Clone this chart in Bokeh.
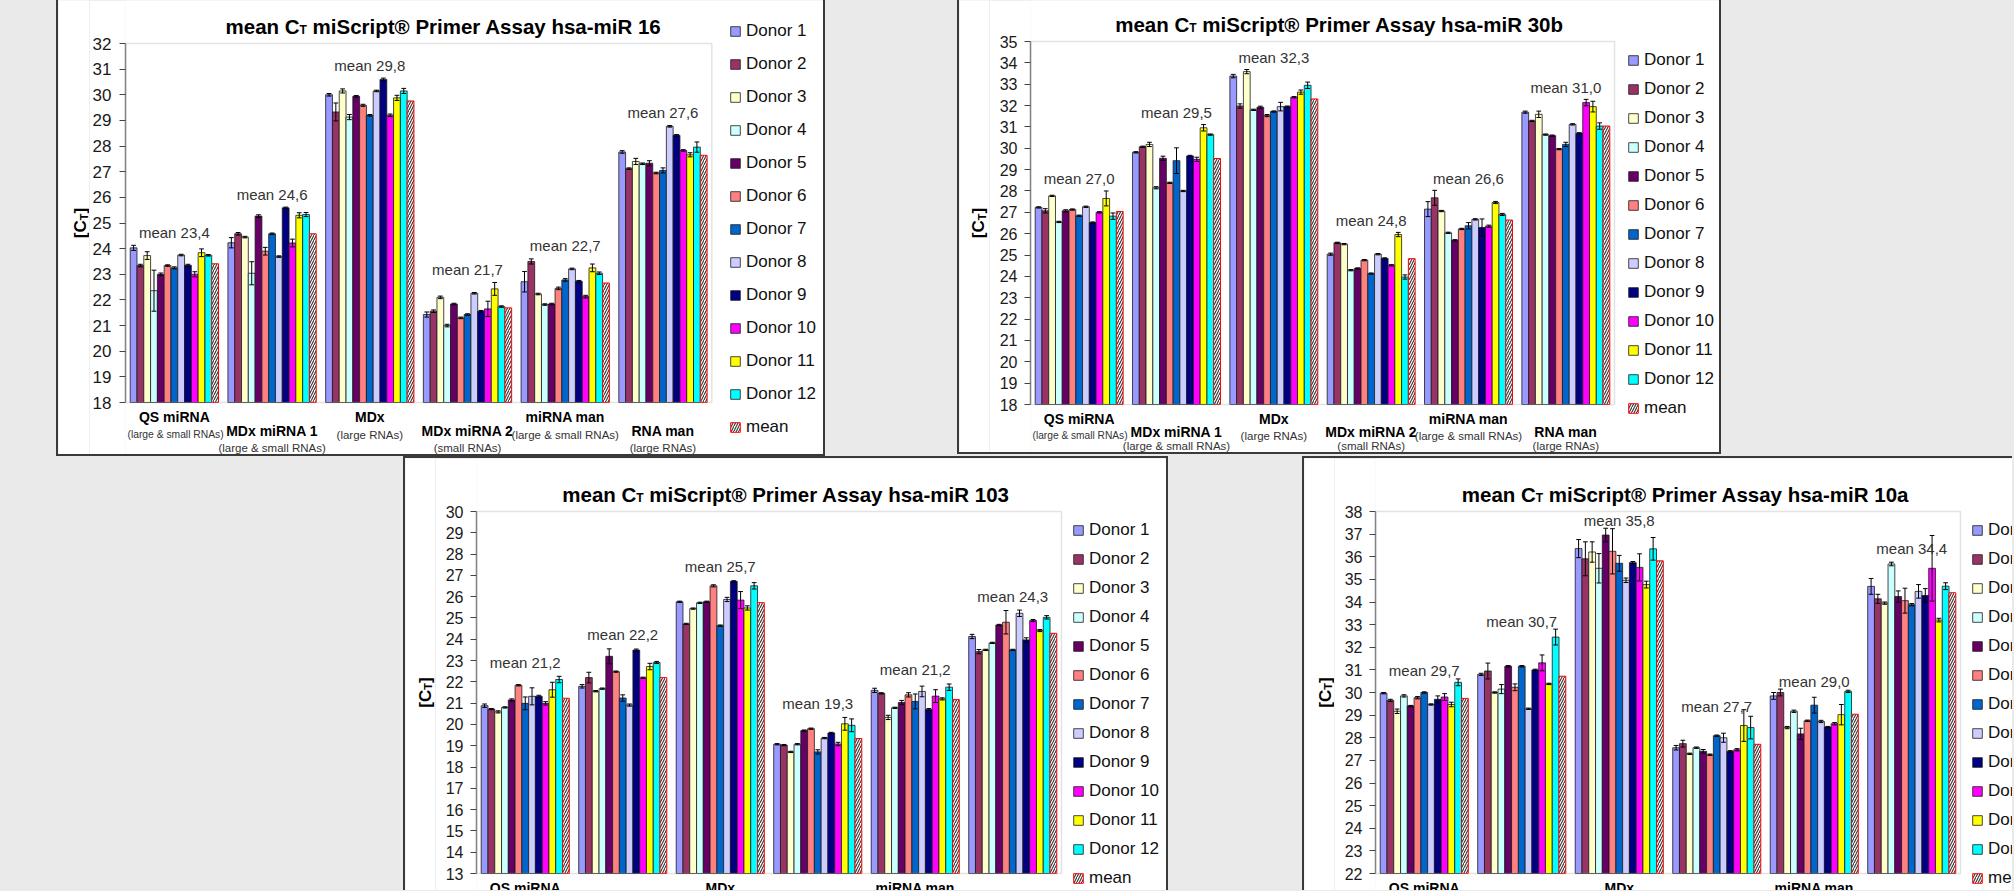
import math
from bokeh.plotting import figure
from bokeh.models import (ColumnDataSource, Range1d, Label, Legend, LegendItem,
                          FixedTicker, Spacer, BoxAnnotation, GlobalInlineStyleSheet)
from bokeh.layouts import row, column
from bokeh.embed import file_html
from bokeh.resources import INLINE
from bokeh.core.properties import value

# ---------------------------------------------------------------- data
CATEGORIES = ["QS miRNA", "MDx miRNA 1", "MDx", "MDx miRNA 2", "miRNA man", "RNA man"]
CATEGORY_NOTES = ["(large & small RNAs)", "(large & small RNAs)", "(large RNAs)",
                  "(small RNAs)", "(large & small RNAs)", "(large RNAs)"]
DONORS = ["Donor %d" % i for i in range(1, 13)]
MEAN_NAME = "mean"

# hsa-miR 16 : Ct per category (rows) and donor (columns), error, mean
MIR16_CT = [
    [24.03, 23.34, 23.73, 22.36, 23.00, 23.34, 23.25, 23.75, 23.35, 23.00, 23.84, 23.74],
    [24.23, 24.58, 24.45, 23.04, 25.27, 23.90, 24.58, 23.69, 25.59, 24.22, 25.30, 25.33],
    [30.00, 29.33, 30.15, 29.13, 29.94, 29.59, 29.20, 30.15, 30.60, 29.20, 29.88, 30.15],
    [21.43, 21.56, 22.10, 21.00, 21.84, 21.30, 21.43, 22.26, 21.56, 21.65, 22.43, 21.74],
    [22.71, 23.50, 22.23, 21.82, 21.84, 22.45, 22.78, 23.21, 22.73, 22.13, 23.25, 23.04],
    [27.77, 27.12, 27.40, 27.31, 27.33, 26.95, 27.05, 28.77, 28.42, 27.83, 27.66, 27.96],
]
MIR16_ERR = [
    [0.10, 0.05, 0.15, 0.80, 0.05, 0.03, 0.04, 0.03, 0.04, 0.10, 0.15, 0.03],
    [0.20, 0.05, 0.03, 0.45, 0.05, 0.15, 0.03, 0.03, 0.03, 0.15, 0.10, 0.08],
    [0.05, 0.35, 0.08, 0.10, 0.03, 0.04, 0.03, 0.03, 0.05, 0.05, 0.10, 0.10],
    [0.10, 0.05, 0.05, 0.05, 0.03, 0.03, 0.03, 0.03, 0.03, 0.30, 0.25, 0.03],
    [0.40, 0.10, 0.03, 0.03, 0.03, 0.05, 0.05, 0.03, 0.03, 0.05, 0.15, 0.05],
    [0.05, 0.03, 0.12, 0.03, 0.10, 0.03, 0.10, 0.03, 0.03, 0.03, 0.08, 0.20],
]
MIR16_MEAN = [23.41, 24.58, 29.76, 21.69, 22.66, 27.64]

# hsa-miR 30b
MIR30B_CT = [
    [27.23, 27.07, 27.77, 26.55, 27.07, 27.13, 26.84, 27.26, 26.52, 27.00, 27.65, 26.82],
    [29.81, 30.07, 30.18, 28.15, 29.53, 28.38, 29.42, 28.00, 29.64, 29.48, 30.96, 30.64],
    [33.38, 31.98, 33.59, 31.80, 31.92, 31.53, 31.72, 31.95, 31.95, 32.39, 32.63, 32.95],
    [25.04, 25.57, 25.51, 24.29, 24.37, 24.76, 24.13, 25.04, 24.84, 24.52, 25.96, 23.97],
    [27.15, 27.68, 27.06, 26.04, 25.69, 26.22, 26.37, 26.67, 26.29, 26.35, 27.46, 26.90],
    [31.69, 31.28, 31.59, 30.64, 30.59, 29.96, 30.18, 31.12, 30.70, 32.14, 31.95, 31.04],
]
MIR30B_ERR = [
    [0.03, 0.10, 0.03, 0.03, 0.05, 0.03, 0.03, 0.03, 0.03, 0.03, 0.35, 0.15],
    [0.03, 0.03, 0.10, 0.05, 0.10, 0.03, 0.60, 0.03, 0.03, 0.10, 0.15, 0.03],
    [0.08, 0.10, 0.10, 0.03, 0.05, 0.05, 0.03, 0.20, 0.03, 0.03, 0.10, 0.15],
    [0.05, 0.03, 0.03, 0.03, 0.03, 0.03, 0.03, 0.03, 0.03, 0.03, 0.10, 0.10],
    [0.35, 0.35, 0.03, 0.03, 0.03, 0.03, 0.15, 0.03, 0.40, 0.05, 0.05, 0.05],
    [0.05, 0.03, 0.15, 0.03, 0.03, 0.03, 0.10, 0.03, 0.03, 0.15, 0.25, 0.15],
]
MIR30B_MEAN = [27.04, 29.52, 32.31, 24.83, 26.64, 31.04]

# hsa-miR 103
MIR103_CT = [
    [20.88, 20.72, 20.59, 20.80, 21.15, 21.84, 20.99, 21.32, 21.32, 20.99, 21.63, 22.11],
    [21.79, 22.20, 21.56, 21.68, 23.20, 22.48, 21.24, 20.91, 23.49, 22.19, 22.72, 22.91],
    [25.76, 24.72, 25.44, 25.71, 25.76, 26.51, 24.64, 25.87, 26.72, 25.84, 25.47, 26.51],
    [19.07, 19.03, 18.71, 19.07, 19.71, 19.80, 18.71, 19.36, 19.60, 19.08, 20.03, 19.96],
    [21.60, 21.46, 20.33, 20.78, 21.03, 21.39, 21.08, 21.55, 20.70, 21.33, 21.20, 21.75],
    [24.13, 23.42, 23.50, 23.83, 24.67, 24.80, 23.50, 25.22, 23.97, 24.88, 24.41, 25.03],
]
MIR103_ERR = [
    [0.08, 0.03, 0.05, 0.03, 0.05, 0.03, 0.30, 0.40, 0.05, 0.08, 0.35, 0.15],
    [0.08, 0.25, 0.03, 0.03, 0.35, 0.03, 0.15, 0.05, 0.05, 0.03, 0.15, 0.05],
    [0.03, 0.03, 0.03, 0.03, 0.03, 0.05, 0.03, 0.10, 0.03, 0.40, 0.10, 0.15],
    [0.03, 0.03, 0.03, 0.03, 0.03, 0.03, 0.10, 0.03, 0.03, 0.08, 0.30, 0.30],
    [0.10, 0.03, 0.10, 0.03, 0.10, 0.10, 0.35, 0.25, 0.05, 0.30, 0.05, 0.15],
    [0.10, 0.10, 0.03, 0.03, 0.03, 0.55, 0.03, 0.15, 0.10, 0.05, 0.05, 0.08],
]
MIR103_MEAN = [21.23, 22.20, 25.72, 19.34, 21.17, 24.28]

# hsa-miR 10a
MIR10A_CT = [
    [29.97, 29.65, 29.17, 29.85, 29.40, 29.77, 30.00, 29.47, 29.70, 29.80, 29.47, 30.45],
    [30.80, 30.95, 30.00, 30.15, 31.16, 30.23, 31.16, 29.28, 31.00, 31.31, 30.38, 32.45],
    [36.36, 35.91, 36.21, 35.49, 36.96, 36.24, 35.71, 34.96, 35.74, 35.53, 34.77, 36.35],
    [27.56, 27.74, 27.29, 27.56, 27.40, 27.25, 28.09, 28.00, 27.40, 27.47, 28.54, 28.45],
    [29.85, 30.00, 28.45, 29.17, 28.17, 28.75, 29.44, 28.72, 28.47, 28.62, 29.02, 30.05],
    [34.69, 34.14, 33.95, 35.68, 34.24, 34.06, 33.88, 34.47, 34.29, 35.49, 33.20, 34.70],
]
MIR10A_ERR = [
    [0.03, 0.05, 0.10, 0.05, 0.03, 0.05, 0.03, 0.03, 0.15, 0.15, 0.10, 0.15],
    [0.05, 0.35, 0.03, 0.20, 0.03, 0.15, 0.03, 0.03, 0.03, 0.35, 0.03, 0.35],
    [0.40, 0.75, 0.45, 0.65, 0.30, 1.00, 0.35, 0.10, 0.05, 0.60, 0.15, 0.50],
    [0.10, 0.15, 0.03, 0.03, 0.08, 0.03, 0.03, 0.20, 0.03, 0.05, 0.70, 0.50],
    [0.15, 0.15, 0.05, 0.05, 0.25, 0.03, 0.35, 0.05, 0.03, 0.05, 0.45, 0.05],
    [0.35, 0.20, 0.05, 0.08, 0.25, 0.55, 0.05, 0.30, 0.30, 1.45, 0.08, 0.15],
]
MIR10A_MEAN = [29.74, 30.72, 35.82, 27.71, 29.04, 34.41]

# ---------------------------------------------------------------- style
DONOR_COLORS = ["#9999FF", "#993366", "#FFFFCC", "#CCFFFF", "#660066", "#FF8080",
                "#0066CC", "#CCCCFF", "#000080", "#FF00FF", "#FFFF00", "#00FFFF"]
PAGE_BG = "#eaeaea"
BORDER = "#3a3a3a"
FONT = "Liberation Sans"
BAR_W = 0.0695
CAT_FONT = 14
NOTE_FONT = 11.5

ARIAL_BOLD = {' ': 278, '®': 737, '-': 333, 'A': 722, 'C': 722, 'D': 722, 'M': 833,
              'N': 722, 'P': 667, 'Q': 778, 'R': 722, 'S': 667, 'T': 611, 'a': 556,
              'b': 611, 'c': 556, 'e': 556, 'h': 611, 'i': 278, 'm': 889, 'n': 611,
              'p': 611, 'r': 389, 's': 556, 't': 333, 'x': 556, 'y': 556, '[': 333, ']': 333}
ARIAL = {' ': 278, '(': 333, ')': 333, '&': 667, 'A': 667, 'N': 722, 'R': 722,
         'a': 556, 'e': 556, 'g': 556, 'l': 222, 'm': 833, 'r': 333, 's': 500}


def tw(s, size, table=ARIAL_BOLD):
    return sum(table.get(ch, 556) for ch in s) * size / 1000.0


def make_ylabel_fig(L):
    """narrow figure that only carries the rotated axis title [C_T]"""
    w, h = L["lab_w"], L["h"]
    q = figure(width=w, height=h, x_range=Range1d(0, w), y_range=Range1d(0, h),
               x_axis_location=None, y_axis_location=None, title=None,
               toolbar_location=None, output_backend="svg",
               min_border_left=0, min_border_right=0, min_border_top=0, min_border_bottom=0)
    q.outline_line_color = None
    q.grid.grid_line_color = None
    q.background_fill_color = "white"
    q.border_fill_color = "white"
    Fy, Fys = 17, 11
    xb = L["lab_xb"]
    total = tw("[C", Fy) + tw("T", Fys) + tw("]", Fy)
    yc = h - (L["mbt"] + (h - L["mbt"] - L["mbb"]) / 2.0)
    start = yc - total / 2.0
    for txt, dy, dx, size in [("[C", 0, 0, Fy), ("T", tw("[C", Fy), 3, Fys),
                              ("]", tw("[C", Fy) + tw("T", Fys), 0, Fy)]:
        q.add_layout(Label(x=xb + dx, y=start + dy, text=txt, angle=math.pi / 2,
                           text_align="left", text_baseline="alphabetic", text_font=FONT,
                           text_font_style="bold", text_font_size="%spx" % size,
                           text_color="#000000"))
    return q


def make_panel(assay, ct, err, mean, y0, y1, L):
    W, H = L["w"], L["h"]
    fw = L["pw"]                               # plot-area width in px
    fh = H - L["mbt"] - L["mbb"]               # plot-area height in px
    ppu = fh / float(y1 - y0)
    x_end = 6.0 * (W - L["mbl"]) / fw
    p = figure(width=W, height=H, x_range=Range1d(0, x_end),
               y_range=Range1d(y0 - L["mbb"] / ppu, y1 + L["mbt"] / ppu),
               x_axis_location=None, title=None, toolbar_location=None,
               output_backend="svg", min_border_left=L["mbl"], min_border_right=0,
               min_border_top=0, min_border_bottom=0)
    p.background_fill_color = "white"
    p.border_fill_color = "white"
    p.outline_line_color = None
    p.grid.grid_line_color = None

    # plot-area frame
    p.add_layout(BoxAnnotation(left=0, right=6, bottom=y0, top=y1, fill_alpha=0,
                               fill_color=None, line_color="#a3a3a3", line_width=1.5))

    ax = p.yaxis[0]
    ax.ticker = FixedTicker(ticks=list(range(y0, y1 + 1)))
    ax.bounds = (y0, y1)
    ax.axis_line_color = "#7f7f7f"
    ax.axis_line_width = 1.5
    ax.major_tick_line_color = "#444444"
    ax.major_tick_out = 6
    ax.major_tick_in = 0
    ax.minor_tick_line_color = None
    ax.major_label_standoff = L["standoff"]
    ax.major_label_text_font = FONT
    ax.major_label_text_font_size = L["tick_font"]
    ax.major_label_text_color = "#1a1a1a"

    items = []
    ncat = len(CATEGORIES)
    for j, name in enumerate(DONORS):
        xs = [c + 0.5 + (j - 6) * BAR_W for c in range(ncat)]
        tops = [ct[c][j] for c in range(ncat)]
        errs = [err[c][j] for c in range(ncat)]
        src = ColumnDataSource(dict(x=xs, top=tops,
                                    lo=[t - e for t, e in zip(tops, errs)],
                                    hi=[t + e for t, e in zip(tops, errs)],
                                    cl=[x - 0.35 * BAR_W for x in xs],
                                    cr=[x + 0.35 * BAR_W for x in xs]))
        r = p.vbar(x="x", top="top", bottom=y0, width=BAR_W, source=src,
                   fill_color=DONOR_COLORS[j], line_color="#1a1a1a", line_width=0.8)
        p.segment(x0="x", y0="lo", x1="x", y1="hi", source=src, line_color="black", line_width=1)
        p.segment(x0="cl", y0="hi", x1="cr", y1="hi", source=src, line_color="black", line_width=1)
        p.segment(x0="cl", y0="lo", x1="cr", y1="lo", source=src, line_color="black", line_width=1)
        items.append(LegendItem(label=name, renderers=[r]))
    msrc = ColumnDataSource(dict(x=[c + 0.5 + 6 * BAR_W for c in range(ncat)], top=mean))
    rm = p.vbar(x="x", top="top", bottom=y0, width=BAR_W, source=msrc, fill_color="white",
                hatch_pattern="/", hatch_color="#333333", hatch_scale=5, hatch_weight=1.1,
                line_color="#ff0000", line_width=1.0)
    items.append(LegendItem(label=MEAN_NAME, renderers=[rm]))

    # mean annotations above each group
    lab_y = [max(max(ct[c][j] + min(err[c][j], 0.5) for j in range(12)), mean[c])
             for c in range(ncat)]
    lsrc = ColumnDataSource(dict(x=[c + 0.5 for c in range(ncat)], y=lab_y,
                                 t=[("mean %.1f" % m).replace(".", ",") for m in mean]))
    p.text(x="x", y="y", text="t", source=lsrc, text_align="center", text_baseline="middle",
           y_offset=-L["mean_gap"], text_font=value(FONT), text_font_size=value("15px"),
           text_color="#333333")

    # legend to the right of the plot area
    n = len(items)
    row_h = 20
    LH = n * row_h + (n - 1) * L["leg_sp"]
    top_rel = L["mbt"] + L["leg_first"] - row_h / 2.0      # from frame (figure) top
    leg = Legend(items=items, location=(fw + L["leg_dx"], H - (top_rel + LH)),
                 orientation="vertical", border_line_color=None, background_fill_alpha=0,
                 padding=0, margin=0, spacing=L["leg_sp"], glyph_width=12, glyph_height=12,
                 label_height=row_h, label_standoff=5, label_text_font=FONT,
                 label_text_font_size="17px", label_text_color="#111111")
    p.add_layout(leg)

    # title: mean C_T miScript(R) Primer Assay hsa-miR ...
    F, Fs = 20.5, 12
    t1, t2, t3 = "mean C", "T", "miScript® Primer Assay hsa-miR " + assay
    gap_sp = tw(" ", F)
    TW = tw(t1, F) + tw(t2, Fs) + gap_sp + tw(t3, F)
    left = L["title_cx"] - TW / 2.0
    for txt, dx, dy, size in [(t1, 0, 0, F), (t2, tw(t1, F), -3.5, Fs),
                              (t3, tw(t1, F) + tw(t2, Fs) + gap_sp, 0, F)]:
        p.add_layout(Label(x=0, y=y1, x_offset=left + dx, y_offset=17.5 + dy, text=txt,
                           text_align="left", text_baseline="alphabetic", text_font=FONT,
                           text_font_style="bold", text_font_size="%spx" % size,
                           text_color="#000000"))

    # category labels, staggered on two levels (only those reaching into the canvas)
    cat_px = fw / 6.0
    o1, o2, o3, o4 = L["cat_off"]
    for c in range(ncat):
        top_off, sub_off = (o1, o2) if c % 2 == 0 else (o3, o4)
        if top_off - 6 < L["mbb"]:
            p.add_layout(Label(x=c + 0.5, y=y0, y_offset=-top_off, text=CATEGORIES[c],
                               text_align="center", text_baseline="middle", text_font=FONT,
                               text_font_style="bold", text_font_size="%spx" % CAT_FONT,
                               text_color="#000000"))
        if sub_off - 6 < L["mbb"]:
            size = NOTE_FONT
            centre_px = (c + 0.5) * cat_px
            half = tw(CATEGORY_NOTES[c], size, ARIAL) / 2.0
            if centre_px - half < 2:      # would leave the plot frame: keep it inside
                nxt = (c + 1.5) * cat_px - tw(CATEGORIES[c + 1], CAT_FONT) / 2.0
                size = min(size, NOTE_FONT * (nxt - 5) / (2 * half))
                kw = dict(x=0, x_offset=2, text_align="left")
            else:
                kw = dict(x=c + 0.5, text_align="center")
            p.add_layout(Label(y=y0, y_offset=-sub_off, text=CATEGORY_NOTES[c],
                               text_baseline="middle", text_font=FONT,
                               text_font_size="%.1fpx" % size, text_color="#333333", **kw))
    return row(make_ylabel_fig(L), p, spacing=0)


LAY1 = dict(lab_w=31, lab_xb=22.4, w=734, h=454, mbl=34, pw=588, mbt=43, mbb=52,
            standoff=8, tick_font="17px", leg_first=-12, leg_sp=13, leg_dx=16,
            title_cx=318, mean_gap=13, cat_off=(14.7, 32.0, 28.0, 45.0))
LAY2 = dict(lab_w=30, lab_xb=19.0, w=730, h=452, mbl=41, pw=584, mbt=41, mbb=48,
            standoff=7, tick_font="16px", leg_first=18.5, leg_sp=9, leg_dx=13,
            title_cx=309, mean_gap=12, cat_off=(14.3, 31.0, 27.7, 41.5))
LAY3 = dict(lab_w=30, lab_xb=19.7, w=731, h=432, mbl=41, pw=585, mbt=53, mbb=17,
            standoff=7, tick_font="16px", leg_first=18.5, leg_sp=9, leg_dx=11,
            title_cx=309.5, mean_gap=14, cat_off=(14.3, 31.0, 27.7, 44.0))
LAY4 = dict(lab_w=30, lab_xb=20.7, w=678, h=432, mbl=41, pw=585, mbt=53, mbb=17,
            standoff=7, tick_font="16px", leg_first=18.5, leg_sp=9, leg_dx=11,
            title_cx=310, mean_gap=8, cat_off=(14.3, 31.0, 27.7, 44.0))

p1 = make_panel("16", MIR16_CT, MIR16_ERR, MIR16_MEAN, 18, 32, LAY1)
p2 = make_panel("30b", MIR30B_CT, MIR30B_ERR, MIR30B_MEAN, 18, 35, LAY2)
p3 = make_panel("103", MIR103_CT, MIR103_ERR, MIR103_MEAN, 13, 30, LAY3)
p4 = make_panel("10a", MIR10A_CT, MIR10A_ERR, MIR10A_MEAN, 22, 38, LAY4)


def gap(w, h):
    return Spacer(width=w, height=h, margin=0)


def line(w, h):
    return Spacer(width=w, height=h, margin=0, styles={"background-color": BORDER})


top_row = row(
    gap(56, 456),
    row(line(2, 456), column(p1, line(765, 2), spacing=0), line(2, 456), spacing=0),
    gap(132, 456),
    row(line(2, 454), column(p2, line(760, 2), spacing=0), line(2, 454), spacing=0),
    spacing=0)
bottom_row = row(
    gap(403, 434),
    column(line(765, 2), row(line(2, 432), p3, line(2, 432), spacing=0), spacing=0),
    gap(134, 434),
    column(line(710, 2), row(line(2, 432), p4, spacing=0), spacing=0),
    spacing=0)
root = column(top_row, bottom_row, spacing=0,
              stylesheets=[GlobalInlineStyleSheet(css="html, body { background-color: %s; }" % PAGE_BG)])

open("out.html", "w").write(file_html(root, INLINE))
